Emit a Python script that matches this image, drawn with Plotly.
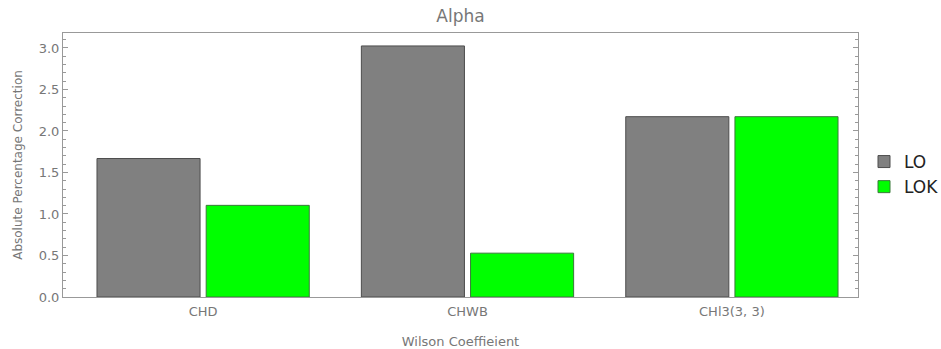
import plotly.graph_objects as go

categories = ["CHD", "CHWB", "CHl3(3, 3)"]
lo_values = [1.668, 3.024, 2.172]
lok_values = [1.104, 0.528, 2.172]
series_names = ["LO", "LOK"]

fig = go.Figure()
fig.add_trace(go.Bar(x=categories, y=lo_values, name=series_names[0],
                     marker=dict(color="#808080", line=dict(color="#4d4d4d", width=1))))
fig.add_trace(go.Bar(x=categories, y=lok_values, name=series_names[1],
                     marker=dict(color="#00ff00", line=dict(color="#3a7a3a", width=1))))

txt = "#777777"
frame = "#999999"
xr = [-0.53, 2.477]
fig.update_layout(
    width=941, height=349,
    margin=dict(l=63, r=83, t=33, b=52, autoexpand=False),
    plot_bgcolor="white", paper_bgcolor="white",
    barmode="group", bargap=0.174, bargroupgap=0.056,
    font=dict(family="DejaVu Sans", color=txt, size=13),
    title=dict(text="Alpha", x=0.5, xref="paper", xanchor="center", y=1, yref="container",
               yanchor="top", pad=dict(t=10), font=dict(size=17, color=txt)),
    legend=dict(xref="container", yref="container", x=864 / 941, y=0.5, xanchor="left",
                yanchor="middle", font=dict(size=17, color="#222222"), itemwidth=30,
                tracegroupgap=0, bgcolor="rgba(0,0,0,0)"),
    xaxis=dict(type="category", range=xr, showline=True, linecolor=frame, linewidth=1,
               mirror=True, ticks="", tickfont=dict(size=13, color=txt), automargin=False,
               ticklabelstandoff=2,
               title=dict(text="Wilson Coeffieient", font=dict(size=13, color=txt), standoff=20)),
    xaxis2=dict(overlaying="x", range=xr, showticklabels=False, showgrid=False, zeroline=False,
                tickmode="array",
                tickvals=[-0.5, -0.218, 0.218, 0.5, 0.782, 1.218, 1.5, 1.782, 2.218],
                ticks="inside", ticklen=4, tickcolor=frame, mirror="allticks", showline=True,
                linecolor=frame, anchor="y", automargin=False),
    yaxis=dict(range=[0, 3.18], dtick=0.5, tickformat=".1f", showline=True, linecolor=frame,
               linewidth=1, mirror="allticks", ticks="inside", ticklen=5, tickcolor=frame,
               showgrid=False, zeroline=False, tickfont=dict(size=13, color=txt), automargin=False,
               minor=dict(dtick=0.1, ticks="inside", ticklen=3, tickcolor=frame, showgrid=False),
               title=dict(text="Absolute Percentage Correction", font=dict(size=12, color=txt),
                          standoff=13)),
)
fig.write_html("out.html", config={"displayModeBar": False},
               post_script="document.body.style.margin='0';document.body.style.padding='0';")
